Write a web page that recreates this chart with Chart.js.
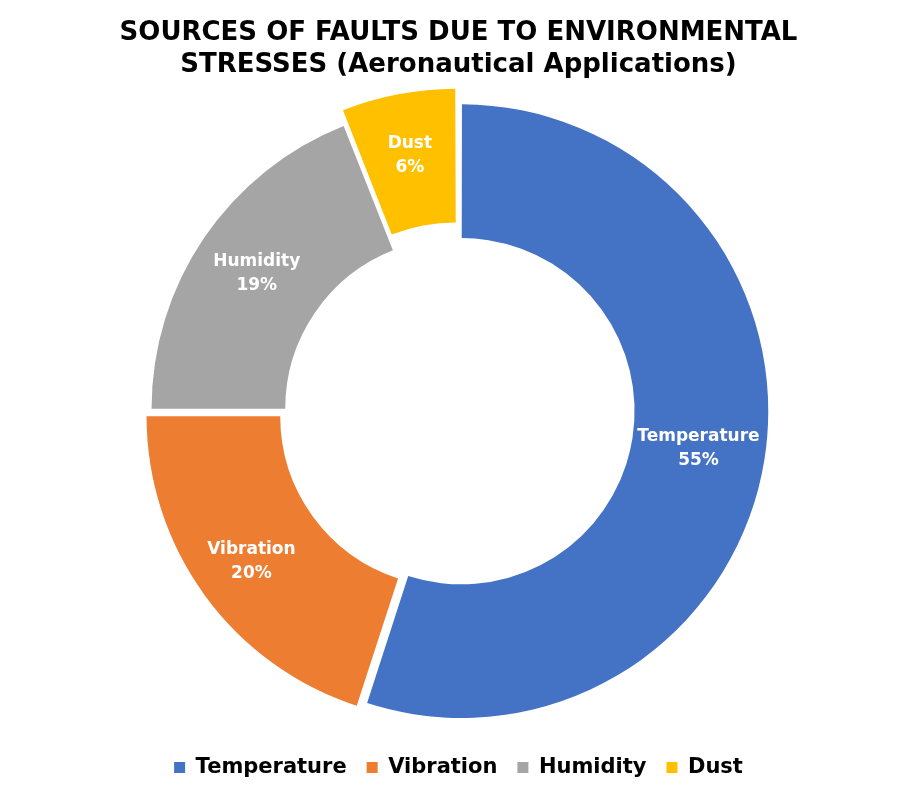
<!DOCTYPE html>
<html>
<head>
<meta charset="utf-8">
<script src="https://cdn.jsdelivr.net/npm/chart.js@4"></script>
<style>
  html, body { margin: 0; padding: 0; background: #fff; }
  #wrap { width: 917px; height: 788px; }
</style>
</head>
<body>
<div id="wrap"><canvas id="faults"></canvas></div>
<script>
const categories = ["Temperature", "Vibration", "Humidity", "Dust"];
const shares = [55, 20, 19, 6];
const sliceColors = ["#4472C4", "#ED7D31", "#A5A5A5", "#FFC000"];
const explode = [12, 38, 14, 45];

// draws "Name\nNN%" inside each slice
const sliceLabels = {
  id: "sliceLabels",
  afterDatasetsDraw(chart) {
    const ctx = chart.ctx;
    const meta = chart.getDatasetMeta(0);
    ctx.save();
    ctx.fillStyle = "#fff";
    ctx.textAlign = "center";
    ctx.textBaseline = "middle";
    ctx.font = "bold 17px 'DejaVu Sans'";
    meta.data.forEach((arc, i) => {
      const p = arc.tooltipPosition();
      ctx.fillText(categories[i], p.x, p.y - 12);
      ctx.fillText(shares[i] + "%", p.x, p.y + 12);
    });
    ctx.restore();
  }
};

new Chart("faults", {
  type: "doughnut",
  data: {
    labels: categories,
    datasets: [{
      data: shares,
      backgroundColor: sliceColors,
      borderWidth: 0,
      offset: explode
    }]
  },
  options: {
    responsive: true,
    maintainAspectRatio: false,
    animation: false,
    cutout: "56%",
    layout: { padding: { top: 0, bottom: 0, left: 20, right: 20 } },
    plugins: {
      title: {
        display: true,
        text: ["SOURCES OF FAULTS DUE TO ENVIRONMENTAL", "STRESSES (Aeronautical Applications)"],
        color: "#000",
        font: { family: "'DejaVu Sans'", size: 26, weight: "bold" },
        padding: { top: 18, bottom: 4 },
        align: "center"
      },
      legend: {
        position: "bottom",
        labels: {
          color: "#000",
          font: { family: "'DejaVu Sans'", size: 21, weight: "bold" },
          boxWidth: 11,
          boxHeight: 11,
          padding: 20
        }
      },
      tooltip: { enabled: false }
    }
  },
  plugins: [sliceLabels]
});
</script>
</body>
</html>
